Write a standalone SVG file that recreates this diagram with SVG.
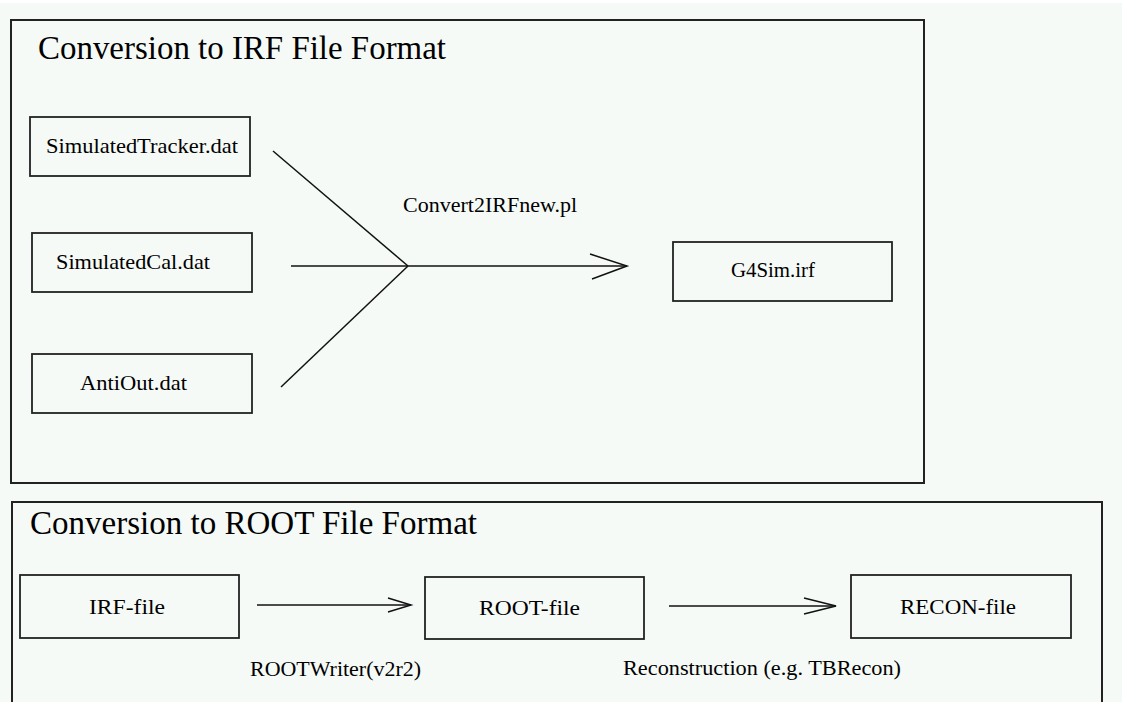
<svg xmlns="http://www.w3.org/2000/svg" width="1122" height="702" viewBox="0 0 1122 702">
<style>
.bg{fill:#f6faf7}
.frame{fill:none;stroke:#222;stroke-width:2}
.box{fill:none;stroke:#222;stroke-width:1.8}
.title{font-family:"Liberation Serif","Times New Roman",serif;font-size:33px;fill:#000}
.lbl{font-family:"Liberation Serif","Times New Roman",serif;font-size:22px;fill:#000}
.con{fill:none;stroke:#111;stroke-width:1.5}
</style>
<rect class="bg" x="0" y="0" width="1122" height="702"/>
<rect x="0" y="0" width="1122" height="3" fill="#ffffff"/>
<g id="section-irf">
<rect class="frame" x="11" y="20" width="913" height="463"/>
<text class="title" x="38" y="59" textLength="408" lengthAdjust="spacingAndGlyphs">Conversion to IRF File Format</text>
</g>
<g id="section-root">
<path class="frame" d="M12,712 V502 H1102 V712"/>
<text class="title" x="30" y="534" textLength="447" lengthAdjust="spacingAndGlyphs">Conversion to ROOT File Format</text>
</g>
<g id="simtracker">
<rect class="box" x="30" y="117" width="220" height="59"/>
<text class="lbl" x="46" y="153" textLength="192" lengthAdjust="spacingAndGlyphs">SimulatedTracker.dat</text>
</g>
<g id="simcal">
<rect class="box" x="32" y="233" width="220" height="59"/>
<text class="lbl" x="56" y="269" textLength="154" lengthAdjust="spacingAndGlyphs">SimulatedCal.dat</text>
</g>
<g id="antiout">
<rect class="box" x="32" y="354" width="220" height="59"/>
<text class="lbl" x="80" y="390" textLength="107" lengthAdjust="spacingAndGlyphs">AntiOut.dat</text>
</g>
<g id="g4sim">
<rect class="box" x="673" y="242" width="219" height="59"/>
<text class="lbl" x="731" y="277" textLength="84" lengthAdjust="spacingAndGlyphs">G4Sim.irf</text>
</g>
<g id="irffile">
<rect class="box" x="20" y="575" width="219" height="63"/>
<text class="lbl" x="89" y="614" textLength="76" lengthAdjust="spacingAndGlyphs">IRF-file</text>
</g>
<g id="rootfile">
<rect class="box" x="425" y="577" width="219" height="62"/>
<text class="lbl" x="479" y="615" textLength="101" lengthAdjust="spacingAndGlyphs">ROOT-file</text>
</g>
<g id="reconfile">
<rect class="box" x="851" y="575" width="220" height="63"/>
<text class="lbl" x="900" y="614" textLength="116" lengthAdjust="spacingAndGlyphs">RECON-file</text>
</g>
<g id="connectors">
<path class="con" d="M273,151 L408,266"/>
<path class="con" d="M281,387 L408,266"/>
<path class="con" d="M291,266 H627"/>
<path class="con" d="M590,254 L627,266 L592,279"/>
<text class="lbl" x="403" y="212" textLength="174" lengthAdjust="spacingAndGlyphs">Convert2IRFnew.pl</text>
<path class="con" d="M257,605 H411"/>
<path class="con" d="M388,598 L411,605 L388,612"/>
<text class="lbl" x="250" y="676" textLength="171" lengthAdjust="spacingAndGlyphs">ROOTWriter(v2r2)</text>
<path class="con" d="M669,606 H836"/>
<path class="con" d="M804,598 L836,606 L804,614"/>
<text class="lbl" x="623" y="675" textLength="278" lengthAdjust="spacingAndGlyphs">Reconstruction (e.g. TBRecon)</text>
</g>
</svg>
